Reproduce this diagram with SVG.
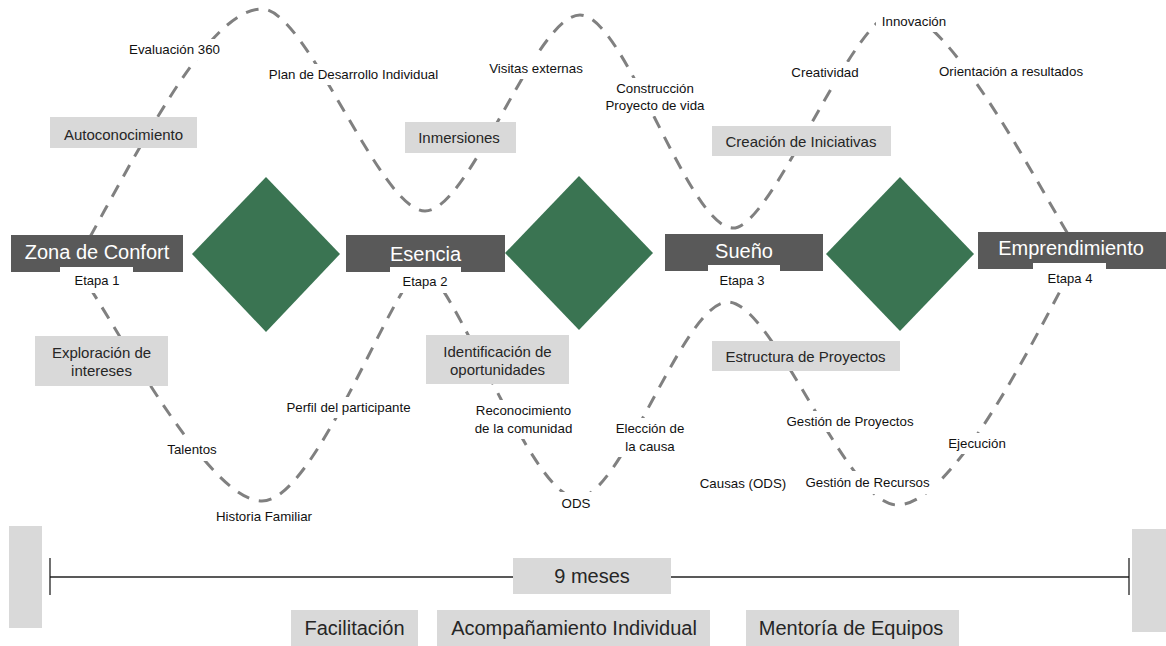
<svg xmlns="http://www.w3.org/2000/svg" width="1166" height="646" viewBox="0 0 1166 646">
<style>
text{font-family:"Liberation Sans",Arial,Helvetica,sans-serif;}
.wave{fill:none;stroke:#808080;stroke-width:3;stroke-dasharray:13 10;}
.stage{fill:#595959;}
.tab{fill:#ffffff;}
.title{fill:#ffffff;font-size:20px;text-anchor:middle;}
.etapa{fill:#111111;font-size:13px;text-anchor:middle;}
.dia{fill:#3a7452;}
.box{fill:#d9d9d9;}
.boxt{fill:#262626;font-size:15px;text-anchor:middle;}
.bg{fill:#ffffff;}
.lbl{fill:#111111;font-size:13.3px;text-anchor:middle;}
.big{fill:#262626;font-size:20px;text-anchor:middle;}
</style>
<rect width="1166" height="646" fill="#ffffff"/>

<g id="connectors">
<path class="wave" d="M 90 237 C 150 128, 212 9, 262 9 C 307 9, 380 211, 425 211 C 470 211, 535 15, 580 15 C 625 15, 688 228, 733 228 C 773 228, 853 11, 898 11 C 948 11, 1038 185, 1068 234"/>
<path class="wave" d="M 90 288 C 130 351, 212 501, 262 501 C 317 501, 397 270, 422 270 C 452 270, 530 498, 577 498 C 622 498, 683 302, 728 302 C 773 302, 847 505, 897 505 C 952 505, 1031 345, 1066 280"/>
</g>

<g id="diamond1"><polygon class="dia" points="266,177 340,254 266,332 192,254"/></g>
<g id="diamond2"><polygon class="dia" points="579,176 653,253 579,330 505,253"/></g>
<g id="diamond3"><polygon class="dia" points="900,177 974,254 900,331 826,254"/></g>

<g id="stage1">
<rect class="stage" x="11" y="235" width="172" height="37"/>
<rect class="tab" x="60" y="267" width="73" height="26"/>
<text class="title" x="97" y="259">Zona de Confort</text>
<text class="etapa" x="97" y="285">Etapa 1</text>
</g>
<g id="stage2">
<rect class="stage" x="346" y="235" width="159" height="37"/>
<rect class="tab" x="390" y="267" width="71" height="26"/>
<text class="title" x="425.5" y="261">Esencia</text>
<text class="etapa" x="425" y="286">Etapa 2</text>
</g>
<g id="stage3">
<rect class="stage" x="665" y="234" width="158" height="37"/>
<rect class="tab" x="708" y="265" width="72" height="26"/>
<text class="title" x="744" y="258">Sueño</text>
<text class="etapa" x="742" y="285">Etapa 3</text>
</g>
<g id="stage4">
<rect class="stage" x="978" y="232" width="188" height="37"/>
<rect class="tab" x="1033" y="263" width="73" height="27"/>
<text class="title" x="1071" y="255">Emprendimiento</text>
<text class="etapa" x="1070" y="283">Etapa 4</text>
</g>

<g id="box-autoconocimiento"><rect class="box" x="50" y="117" width="147" height="31"/><text class="boxt" x="123.5" y="140">Autoconocimiento</text></g>
<g id="box-inmersiones"><rect class="box" x="405" y="122" width="111" height="31"/><text class="boxt" x="459" y="143">Inmersiones</text></g>
<g id="box-creacion"><rect class="box" x="712" y="126" width="179" height="30"/><text class="boxt" x="801" y="147">Creación de Iniciativas</text></g>
<g id="box-exploracion"><rect class="box" x="35" y="336" width="133" height="50"/><text class="boxt" x="101.5" y="358">Exploración de</text><text class="boxt" x="101.5" y="376">intereses</text></g>
<g id="box-identificacion"><rect class="box" x="426" y="335" width="143" height="49"/><text class="boxt" x="497.5" y="357">Identificación de</text><text class="boxt" x="497.5" y="375">oportunidades</text></g>
<g id="box-estructura"><rect class="box" x="712" y="341" width="188" height="30"/><text class="boxt" x="805.5" y="362">Estructura de Proyectos</text></g>

<g id="lbl-evaluacion"><rect class="bg" x="124" y="39" width="101" height="21"/><text class="lbl" x="174.5" y="54">Evaluación 360</text></g>
<g id="lbl-plan"><rect class="bg" x="263" y="64" width="181" height="21"/><text class="lbl" x="353.5" y="79">Plan de Desarrollo Individual</text></g>
<g id="lbl-visitas"><rect class="bg" x="485" y="58" width="102" height="21"/><text class="lbl" x="536" y="73">Visitas externas</text></g>
<g id="lbl-construccion"><rect class="bg" x="601" y="78" width="108" height="38"/><text class="lbl" x="655" y="93">Construcción</text><text class="lbl" x="655" y="110">Proyecto de vida</text></g>
<g id="lbl-creatividad"><rect class="bg" x="787" y="62" width="76" height="21"/><text class="lbl" x="825" y="77">Creatividad</text></g>
<g id="lbl-innovacion"><rect class="bg" x="876" y="3" width="76" height="29"/><text class="lbl" x="914" y="26">Innovación</text></g>
<g id="lbl-orientacion"><rect class="bg" x="934" y="61" width="154" height="21"/><text class="lbl" x="1011" y="76">Orientación a resultados</text></g>
<g id="lbl-talentos"><rect class="bg" x="163" y="438" width="58" height="23"/><text class="lbl" x="192" y="454">Talentos</text></g>
<g id="lbl-historia"><rect class="bg" x="212" y="506" width="104" height="21"/><text class="lbl" x="264" y="521">Historia Familiar</text></g>
<g id="lbl-perfil"><rect class="bg" x="280" y="397" width="137" height="21"/><text class="lbl" x="348.5" y="412">Perfil del participante</text></g>
<g id="lbl-reconocimiento"><rect class="bg" x="469" y="400" width="109" height="39"/><text class="lbl" x="523.5" y="415">Reconocimiento</text><text class="lbl" x="523.5" y="433">de la comunidad</text></g>
<g id="lbl-ods"><rect class="bg" x="556" y="492" width="40" height="22"/><text class="lbl" x="576" y="508">ODS</text></g>
<g id="lbl-eleccion"><rect class="bg" x="611" y="418" width="78" height="39"/><text class="lbl" x="650" y="433">Elección de</text><text class="lbl" x="650" y="451">la causa</text></g>
<g id="lbl-causas"><text class="lbl" x="743" y="488">Causas (ODS)</text></g>
<g id="lbl-gproyectos"><rect class="bg" x="782" y="411" width="136" height="21"/><text class="lbl" x="850" y="426">Gestión de Proyectos</text></g>
<g id="lbl-grecursos"><rect class="bg" x="801" y="471" width="140" height="23"/><text class="lbl" x="867.5" y="487">Gestión de Recursos</text></g>
<g id="lbl-ejecucion"><rect class="bg" x="944" y="433" width="66" height="21"/><text class="lbl" x="977" y="448">Ejecución</text></g>

<g id="timeline">
<rect class="box" x="9" y="526" width="33" height="102"/>
<rect class="box" x="1132" y="529" width="34" height="103"/>
<line x1="50" y1="577" x2="1129" y2="577" stroke="#595959" stroke-width="2"/>
<line x1="50" y1="558" x2="50" y2="595" stroke="#111111" stroke-width="1.2"/>
<line x1="1129" y1="558" x2="1129" y2="595" stroke="#111111" stroke-width="1.2"/>
</g>
<g id="box-meses"><rect class="box" x="513" y="558" width="158" height="36"/><text class="big" x="592" y="583">9 meses</text></g>
<g id="box-facilitacion"><rect class="box" x="291" y="610" width="127" height="36"/><text class="big" x="354.5" y="635">Facilitación</text></g>
<g id="box-acompanamiento"><rect class="box" x="437" y="610" width="273" height="36"/><text class="big" x="574" y="635">Acompañamiento Individual</text></g>
<g id="box-mentoria"><rect class="box" x="746" y="610" width="213" height="36"/><text class="big" x="851" y="635">Mentoría de Equipos</text></g>
</svg>
